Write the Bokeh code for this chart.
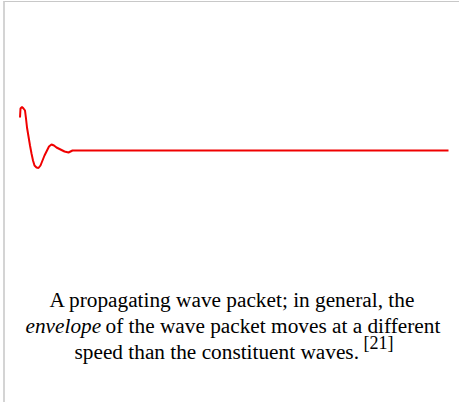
from bokeh.plotting import figure
from bokeh.models import Range1d, Label
from bokeh.embed import file_html
from bokeh.resources import INLINE

# Snapshot of a dispersing wave packet: position along the medium vs. displacement
position = [19.5, 20, 21.5, 23, 24.5, 25.5, 26.5, 28, 29.5, 31, 32.5, 34, 36, 38,
            40, 42, 44, 46, 48.5, 51, 53.5, 56, 60, 64, 68, 70, 72, 448]
displacement = [33, 42, 43.5, 42, 40, 32, 23, 14, 5, -3, -10, -15, -17, -17.5,
                -15, -10, -5, -1, 4, 6, 5, 3, 1, -1, -2, -1, 0, 0]

caption_1 = "A propagating wave packet; in general, the"
caption_2_em = "envelope"
caption_2 = "of the wave packet moves at a different"
caption_3 = "speed than the constituent waves."
citation = "[21]"

p = figure(width=456, height=401, output_backend="svg", toolbar_location=None,
           x_range=Range1d(5, 461), y_range=Range1d(-253, 148),
           min_border=0, outline_line_color=None,
           styles={"border-top": "1px solid #c8c8c8",
                   "border-left": "2px solid #d4d4d4",
                   "margin-left": "3px", "margin-top": "1px"})
p.axis.visible = False
p.grid.visible = False
p.background_fill_color = "white"
p.border_fill_color = "white"

p.line(position, displacement, line_color="#f00000", line_width=2)

font = "Liberation Serif"
size = "21.3px"
common = dict(x_units="screen", y_units="screen", text_font=font,
              text_font_size=size, text_color="#000000",
              text_baseline="alphabetic")

p.add_layout(Label(x=227, y=104, text=caption_1, text_align="center", **common))
p.add_layout(Label(x=20, y=78, text=caption_2_em, text_align="left",
                   text_font_style="italic", **common))
p.add_layout(Label(x=100, y=78, text=caption_2, text_align="left", **common))
p.add_layout(Label(x=69, y=52, text=caption_3, text_align="left", **common))
sup = dict(common)
sup["text_font_size"] = "18px"
p.add_layout(Label(x=358, y=61, text=citation, text_align="left", **sup))

open("out.html", "w").write(file_html(p, INLINE))
